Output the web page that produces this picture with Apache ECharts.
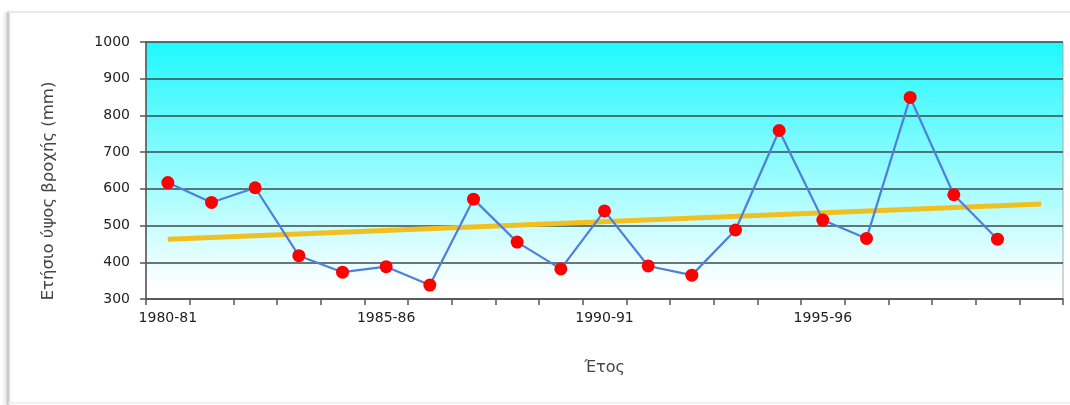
<!DOCTYPE html>
<html>
<head>
<meta charset="utf-8">
<script src="https://cdn.jsdelivr.net/npm/echarts@6/dist/echarts.min.js"></script>
<style>
html,body{margin:0;padding:0;background:#ffffff;overflow:hidden;}
#chart{width:1070px;height:405px;}
</style>
</head>
<body>
<div id="chart"></div>
<script>
// ---- data ----
const years = ['1980-81','1981-82','1982-83','1983-84','1984-85','1985-86','1986-87','1987-88','1988-89','1989-90',
  '1990-91','1991-92','1992-93','1993-94','1994-95','1995-96','1996-97','1997-98','1998-99','1999-00','2000-01'];
const tickLabels = ['1980-81','1985-86','1990-91','1995-96'];
const rainfall = [617, 563, 603, 418, 373, 388, 338, 572, 455, 382, 540, 390, 365, 488, 759, 515, 465, 849, 584, 463];
const trendStart = 463;
const trendEnd = 559;
const yTicks = [300, 400, 500, 600, 700, 800, 900, 1000];

const chart = echarts.init(document.getElementById('chart'));
const font = 'DejaVu Sans';
chart.setOption({
  animation: false,
  backgroundColor: '#ffffff',
  graphic: {
    elements: [
      {
        type: 'line', z: -10, silent: true,
        shape: { x1: 8, y1: 12, x2: 8, y2: 405 },
        style: { stroke: '#c8c8c8', lineWidth: 2.5, shadowBlur: 4, shadowColor: 'rgba(0,0,0,0.25)', shadowOffsetX: -1 }
      },
      {
        type: 'line', z: -10, silent: true,
        shape: { x1: 8, y1: 12, x2: 1070, y2: 12 },
        style: { stroke: '#e2e2e2', lineWidth: 1.5 }
      },
      {
        type: 'line', z: -10, silent: true,
        shape: { x1: 8, y1: 403, x2: 1070, y2: 403 },
        style: { stroke: '#ececec', lineWidth: 1.5 }
      }
    ]
  },
  grid: {
    left: 146, right: 7, top: 42, bottom: 106,
    show: true,
    borderColor: '#a8a8a8', borderWidth: 1,
    backgroundColor: {
      type: 'linear', x: 0, y: 0, x2: 0, y2: 1,
      colorStops: [
        { offset: 0, color: '#1ef8ff' },
        { offset: 0.95, color: '#ffffff' },
        { offset: 1, color: '#ffffff' }
      ]
    }
  },
  xAxis: {
    type: 'category',
    data: years,
    boundaryGap: true,
    name: 'Έτος',
    nameLocation: 'middle',
    nameGap: 61,
    nameTextStyle: { fontFamily: font, fontSize: 16, color: '#444' },
    axisLine: { lineStyle: { color: '#555', width: 1.5 } },
    axisTick: { show: true, interval: 0, length: 6, lineStyle: { color: '#555', width: 1.5 } },
    axisLabel: {
      interval: 0, margin: 12,
      fontFamily: font, fontSize: 14, color: '#222',
      formatter: function (v) { return tickLabels.indexOf(v) >= 0 ? v : ''; }
    },
    splitLine: { show: false }
  },
  yAxis: {
    type: 'value',
    min: yTicks[0], max: yTicks[yTicks.length - 1], interval: 100,
    name: 'Ετήσιο ύψος βροχής (mm)',
    nameLocation: 'middle',
    nameRotate: 90,
    nameGap: 89,
    nameTextStyle: { fontFamily: font, fontSize: 16.5, color: '#444', padding: [0, 41, 0, 0] },
    axisLine: { show: true, lineStyle: { color: '#555', width: 1.5 } },
    axisTick: { show: true, length: 6, lineStyle: { color: '#555', width: 1.5 } },
    axisLabel: {
      margin: 16, fontFamily: font, fontSize: 14, color: '#222',
      formatter: function (v) { return String(v); }
    },
    splitLine: { show: true, lineStyle: { color: '#3c4a4c', width: 1.6 } }
  },
  series: [
    {
      name: 'trend',
      type: 'line',
      data: [[years[0], trendStart], [years[years.length - 1], trendEnd]],
      symbol: 'none',
      lineStyle: { color: '#f0c020', width: 5 },
      z: 2
    },
    {
      name: 'rainfall',
      type: 'line',
      data: rainfall,
      symbol: 'circle',
      symbolSize: 13,
      itemStyle: { color: '#ff0000' },
      lineStyle: { color: '#4f7fd8', width: 2.2 },
      z: 3
    }
  ]
});
</script>
</body>
</html>
